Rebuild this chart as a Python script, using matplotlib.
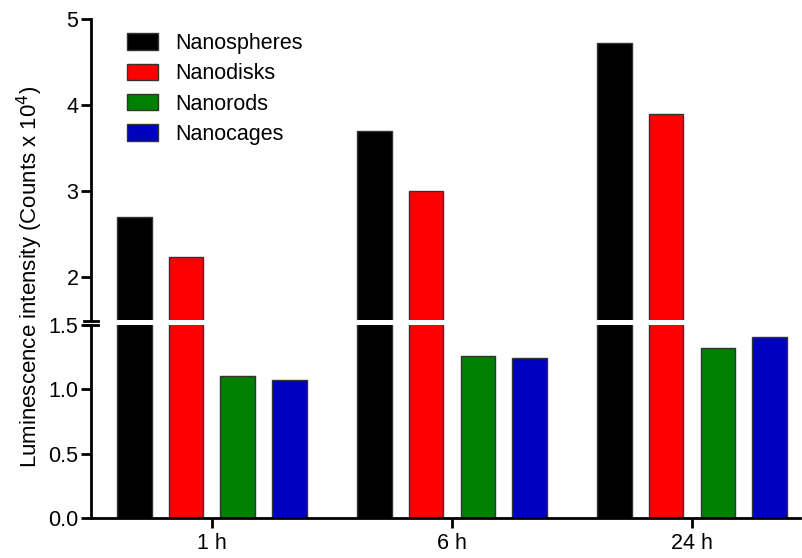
import matplotlib
matplotlib.use("Agg")
import matplotlib.pyplot as plt
import numpy as np
from matplotlib.lines import Line2D

plt.rcParams["font.family"] = ["Liberation Sans", "DejaVu Sans"]

times = ["1 h", "6 h", "24 h"]
series = ["Nanospheres", "Nanodisks", "Nanorods", "Nanocages"]
nanospheres = [2.70, 3.70, 4.72]
nanodisks = [2.23, 3.00, 3.90]
nanorods = [1.10, 1.26, 1.32]
nanocages = [1.07, 1.24, 1.41]
colors = ["#000000", "#ff0000", "#008000", "#0000c0"]

values = [nanospheres, nanodisks, nanorods, nanocages]

W, H = 802, 558
fig = plt.figure(figsize=(W / 100, H / 100), dpi=100)

left, right = 91 / W, 800 / W
ax_lo = fig.add_axes([left, 1 - 518 / H, right - left, (518 - 325) / H])
ax_hi = fig.add_axes([left, 1 - 320 / H, right - left, (320 - 19) / H])

x = np.arange(len(times))
pitch = 0.215
width = 0.144
fs = 15.5

for ax in (ax_lo, ax_hi):
    for i, (name, vals) in enumerate(zip(series, values)):
        ax.bar(x + (i - 1.5) * pitch, vals, width, color=colors[i],
               edgecolor="#333333", linewidth=1, label=name)
    ax.set_xlim(-0.504, 2.45)
    for s in ("top", "right"):
        ax.spines[s].set_visible(False)
    ax.spines["left"].set_linewidth(2)
    ax.tick_params(axis="y", width=2, length=7, labelsize=fs, pad=2)

ax_lo.set_ylim(0, 1.5)
ax_lo.set_yticks([0.0, 0.5, 1.0, 1.5])
ax_lo.set_yticklabels(["0.0", "0.5", "1.0", "1.5"])
ax_lo.spines["bottom"].set_linewidth(2)
ax_lo.set_xticks(x)
ax_lo.set_xticklabels(times)
ax_lo.tick_params(axis="x", width=2, length=7, labelsize=fs, pad=4)

ax_hi.set_ylim(1.5, 5)
ax_hi.set_yticks([2, 3, 4, 5])
ax_hi.set_yticklabels(["2", "3", "4", "5"])
ax_hi.spines["bottom"].set_visible(False)
ax_hi.set_xticks([])

# break marks on the y axis
for yp in (321, 325):
    fig.add_artist(Line2D([84 / W, 98 / W], [1 - yp / H, 1 - yp / H],
                          color="black", linewidth=2, transform=fig.transFigure))

fig.text(30 / W, 1 - 277 / H, r"Luminescence intensity (Counts x 10$^{4}$)",
         rotation=90, ha="center", va="center", fontsize=16)

handles, labels = ax_hi.get_legend_handles_labels()
ax_hi.legend(handles, labels, loc="upper left",
             bbox_to_anchor=(127 / W, 1 - 33 / H), bbox_transform=fig.transFigure,
             frameon=False, fontsize=fs, handlelength=1.45, handleheight=0.8,
             handletextpad=0.8, labelspacing=0.43, borderpad=0, borderaxespad=0)

fig.savefig("out.png", dpi=100)
